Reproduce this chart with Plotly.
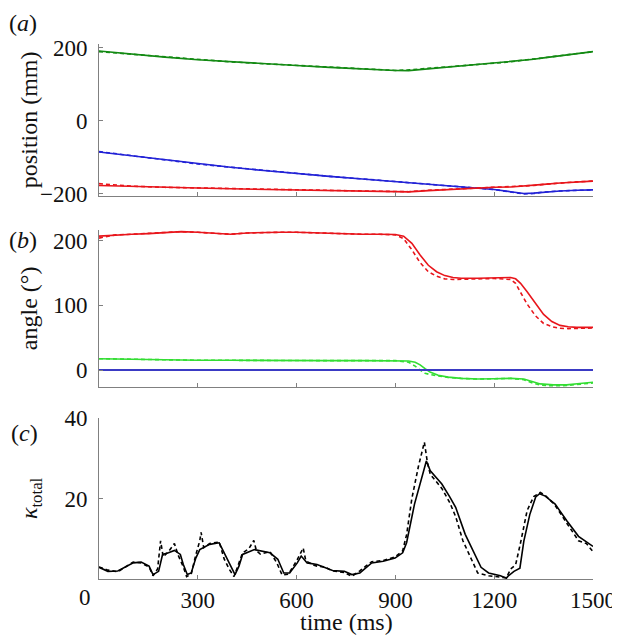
import plotly.graph_objects as go

# ---------------- data ----------------
# panel (a) position (mm)
t_a = [0, 100, 200, 300, 400, 500, 600, 700, 800, 900, 940, 1000, 1100, 1200, 1250, 1290, 1320, 1350, 1400, 1450, 1500]
green_a = [191, 182, 174, 167, 161, 156, 151, 146, 141, 137.5, 137, 142, 150, 157, 161, 165, 168, 172, 178, 184, 189]
green_a_d = [189, 182, 174, 167, 161, 156, 151, 146, 141, 137.5, 139, 143.5, 150, 157, 161, 166, 168, 172, 178, 184, 189]
blue_a = [-86, -97, -108, -119, -128, -137, -146, -153, -160, -167, -170, -174, -181, -189, -195, -200, -199, -196, -193, -191, -190]
blue_a_d = [-85, -97, -108, -119, -128, -137, -146, -153, -160, -167, -170, -174, -181, -189, -196, -201, -200, -196, -193, -191, -190]
red_a = [-178, -181, -183, -185, -187, -188.5, -190, -191.5, -193, -194.5, -195.5, -192, -187, -183, -182, -180, -178, -175, -171, -168, -166]
red_a_d = [-173, -180, -183, -185, -187, -188.5, -190, -191.5, -193, -194.5, -195, -191, -187, -183, -182, -180, -178, -175, -171, -168, -166]

# panel (b) angle (deg)
t_b_red = [0, 50, 100, 150, 200, 250, 300, 350, 400, 450, 500, 550, 600, 650, 700, 750, 800, 850, 900, 925, 950, 975, 1000,
           1025, 1050, 1075, 1100, 1150, 1200, 1250, 1265, 1280, 1300, 1325, 1350, 1375, 1400, 1425, 1450, 1500]
red_b = [207, 209, 210, 211, 212, 214, 213, 211, 210, 212, 213, 213, 213, 212, 211, 210, 210, 210, 209.5, 207, 196, 178, 162,
         152, 146, 143, 142, 142, 142.5, 143, 141, 134, 121, 103, 86, 75, 69, 67, 66, 66]
red_b_d = [204, 209, 210, 211, 212, 214, 213, 211, 210, 212, 213, 213, 213, 212, 211, 210, 210, 210, 209, 203, 186, 166, 152,
           145, 141, 140, 140.5, 141, 141.5, 140, 134, 120, 102, 84, 72, 67, 64.5, 64, 64.5, 65]
t_b_green = [0, 50, 100, 150, 200, 300, 400, 500, 600, 700, 800, 900, 940, 960, 975, 990, 1005, 1030, 1060, 1100, 1150, 1200,
             1250, 1290, 1310, 1340, 1380, 1420, 1460, 1500]
green_b = [17.5, 17, 16.5, 16, 15.5, 15, 15, 14.5, 14.5, 14.5, 14.5, 14.5, 14, 12, 8, 2, -3, -8, -11, -13, -14, -13.5,
           -13, -14, -17, -21.5, -23, -23, -21, -19]
green_b_d = [17.5, 17, 16.5, 16, 15.5, 15, 15, 14.5, 14.5, 14.5, 14.5, 14.5, 12, 6, 0, -5, -7, -9, -11.5, -13, -14, -13.5,
             -13, -15, -19, -23.5, -24.5, -24, -22, -20]
t_b_blue = [0, 1500]
blue_b = [0, 0]

# panel (c) kappa_total
t_c = [0, 27, 57, 104, 128, 152, 164, 181, 193, 211, 229, 247, 256, 268, 280, 294, 306, 336, 365, 383, 401, 413, 425, 436,
       472, 490, 519, 543, 561, 579, 602, 614, 632, 662, 685, 709, 745, 768, 792, 828, 863, 899, 922, 934, 958, 982, 994,
       1006, 1041, 1065, 1083, 1112, 1136, 1160, 1183, 1219, 1237, 1242, 1260, 1278, 1290, 1308, 1326, 1338, 1355, 1385,
       1421, 1456, 1500]
k_c = [2.9, 1.9, 2.0, 4.0, 4.2, 3.2, 1.1, 1.9, 6.1, 6.5, 7.1, 6.1, 3.6, 1.1, 1.5, 5.2, 7.3, 8.6, 9.0, 6.1, 3.2, 1.1, 3.2, 6.1,
       7.3, 7.0, 6.5, 4.9, 1.5, 1.5, 4.0, 5.7, 4.0, 3.6, 2.9, 2.1, 1.9, 1.1, 1.5, 4.0, 4.4, 5.2, 6.5, 9.0, 18.6, 26.0, 29.3,
       26.9, 23.6, 20.4, 17.8, 11.1, 7.0, 2.9, 1.5, 0.8, 0.2, 0.7, 1.9, 2.7, 9.4, 16.0, 20.4, 21.2, 20.6, 18.6,
       14.4, 10.6, 8.1]
t_c_d = [0, 27, 57, 104, 128, 152, 164, 178, 187, 195, 211, 229, 240, 256, 266, 280, 294, 306, 310, 318, 336, 365, 380, 395,
         410, 425, 436, 455, 470, 478, 490, 519, 540, 556, 575, 600, 620, 628, 650, 662, 685, 709, 745, 768, 792, 810, 828,
         863, 899, 922, 934, 950, 970, 988, 997, 1006, 1041, 1065, 1083, 1105, 1130, 1150, 1183, 1219, 1237, 1250, 1265,
         1280, 1300, 1320, 1340, 1355, 1385, 1421, 1456, 1480, 1500]
k_c_d = [3.0, 2.2, 1.8, 4.2, 4.0, 3.0, 0.8, 2.5, 9.5, 5.5, 6.8, 8.8, 6.0, 3.0, 0.6, 1.2, 6.0, 9.5, 11.6, 7.8, 8.8, 9.2, 5.0,
         2.5, 0.6, 4.0, 6.5, 7.5, 9.6, 7.0, 6.2, 6.8, 4.0, 1.0, 1.2, 4.5, 7.7, 4.5, 3.5, 3.2, 3.0, 2.0, 1.6, 0.7, 2.0, 3.2,
         4.3, 4.6, 5.5, 7.0, 11.0, 20.0, 28.0, 34.0, 29.0, 26.0, 22.5, 19.0, 15.5, 9.5, 5.0, 1.5, 0.8, 0.5, 0.3, 2.5, 3.5,
         9.0, 17.0, 20.5, 21.5, 20.8, 18.3, 13.8, 9.5, 8.8, 6.8]

x_ticks = [300, 600, 900, 1200, 1500]
ya_ticks = [-200, 0, 200]
yb_ticks = [0, 100, 200]
yc_ticks = [20, 40]

# ---------------- figure ----------------
GREEN_A = "#138a13"
RED = "#e8151b"
BLUE_A = "#2222d6"
GREEN_B = "#33dd33"
BLUE_B = "#3a3ac4"
FONT = "Liberation Serif"

fig = go.Figure()

def add(x, y, color, axis, dash=False, width=1.6):
    fig.add_trace(go.Scatter(
        x=x, y=y, mode="lines", xaxis="x" + axis, yaxis="y" + axis,
        line=dict(color=color, width=width, dash="4px,3px" if dash else "solid"),
        showlegend=False, hoverinfo="skip"))

add(t_a, green_a_d, GREEN_A, "", True)
add(t_a, green_a, GREEN_A, "")
add(t_a, blue_a_d, BLUE_A, "", True)
add(t_a, blue_a, BLUE_A, "")
add(t_a, red_a_d, RED, "", True)
add(t_a, red_a, RED, "")

add(t_b_red, red_b_d, RED, "2", True)
add(t_b_red, red_b, RED, "2")
add(t_b_green, green_b_d, GREEN_B, "2", True)
add(t_b_green, green_b, GREEN_B, "2")
add(t_b_blue, blue_b, BLUE_B, "2", width=2.2)

add(t_c_d, k_c_d, "black", "3", True)
add(t_c, k_c, "black", "3")

AXC = "#808080"
tickfont = dict(family=FONT, size=23, color="#111")

def xax(domain_anchor, show_labels):
    return dict(range=[0, 1500], tickvals=x_ticks, showticklabels=show_labels,
                ticks="inside", ticklen=4, tickcolor=AXC, showline=True, linecolor=AXC, linewidth=1,
                showgrid=False, zeroline=False, anchor=domain_anchor, tickfont=tickfont, domain=[0, 1],
                ticklabelstandoff=0)

def yax(rng, ticks, domain, anchor):
    return dict(range=rng, tickvals=ticks, ticks="inside", ticklen=4, tickcolor=AXC, showline=True,
                linecolor=AXC, linewidth=1, showgrid=False, zeroline=False, domain=domain, anchor=anchor,
                tickfont=tickfont, ticklabelstandoff=6)

H = 635
top, bot = 36, 571
ph = bot - top
def dom(y0, y1):
    return [(bot - y1) / ph, (bot - y0) / ph]

fig.update_layout(
    width=620, height=635,
    margin=dict(l=91, r=27, t=top, b=H - bot),
    paper_bgcolor="white", plot_bgcolor="white",
    font=dict(family=FONT, color="#111"),
    xaxis=xax("y", False),
    xaxis2=xax("y2", False),
    xaxis3=xax("y3", True),
    yaxis=yax([-206, 210], ya_ticks, dom(36, 187.7), "x"),
    yaxis2=yax([-26.3, 217], yb_ticks, dom(221.7, 379), "x2"),
    yaxis3=yax([0, 40], yc_ticks, dom(410, 571), "x3"),
)

def px_x(px):
    return (px - 91) / 502

def px_y(py):
    return (bot - py) / ph

ann = [
    dict(text="(<i>a</i>)", x=px_x(14), y=px_y(15)),
    dict(text="(<i>b</i>)", x=px_x(14), y=px_y(232)),
    dict(text="(<i>c</i>)", x=px_x(15), y=px_y(425)),
    dict(text="position (mm)", x=px_x(20), y=px_y(112), textangle=-90),
    dict(text="angle (°)", x=px_x(20), y=px_y(300), textangle=-90),
    dict(text="<i>κ</i><sub>total</sub>", x=px_x(22), y=px_y(490), textangle=-90),
    dict(text="time (ms)", x=px_x(342), y=px_y(614)),
    dict(text="0", x=px_x(77), y=px_y(589), font=dict(family=FONT, size=23, color="#111")),
]
for a in ann:
    a.setdefault("font", dict(family=FONT, size=24, color="#111"))
    fig.add_annotation(xref="paper", yref="paper", xanchor="center", yanchor="middle",
                       showarrow=False, **a)

fig.write_html("out.html")
